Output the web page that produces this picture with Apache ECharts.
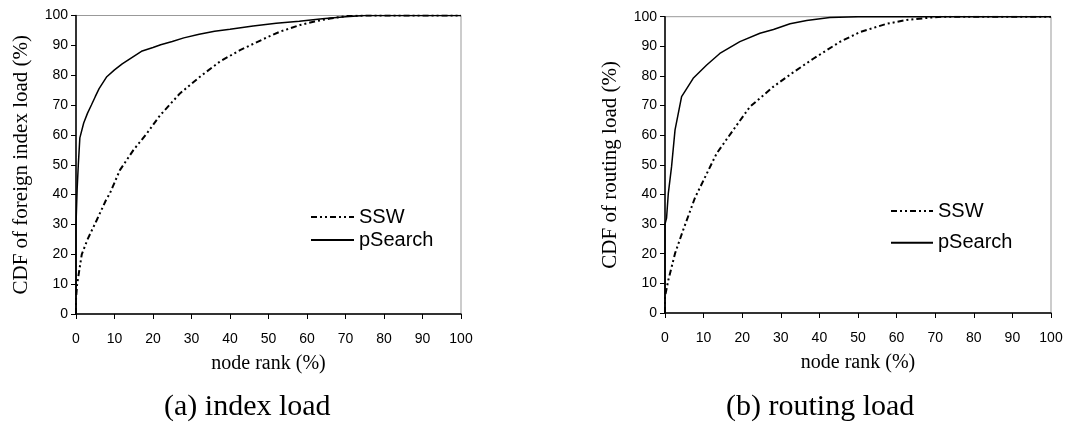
<!DOCTYPE html>
<html>
<head>
<meta charset="utf-8">
<script src="https://cdn.jsdelivr.net/npm/echarts@6/dist/echarts.min.js"></script>
<style>
html,body{margin:0;padding:0;background:#fff;}
#c{width:1068px;height:426px;}
</style>
</head>
<body>
<div id="c"></div>
<script>
// ---- data ----
const xTicks = [0,10,20,30,40,50,60,70,80,90,100];
const yTicks = [0,10,20,30,40,50,60,70,80,90,100];

// (a) index load
const idxPSearchX = [0,0,0.3,0.6,1,2,3,4,5,6,8,10,12,14,17,20,22,25,28,32,36,40,46,52,58,64,70,75,100];
const idxPSearchY = [0,30,42,50,59,64,67.3,70,72.8,75.5,79.5,81.8,83.8,85.5,88,89.3,90.2,91.3,92.5,93.7,94.7,95.4,96.5,97.4,98.1,98.9,99.6,100,100];
const idxSSWX = [0,0,0.3,1.5,3,5.4,7.8,8.8,11.4,14.9,18.4,21.8,27,32.2,37.4,42.6,49.5,53,58.2,62,66,70,75,100];
const idxSSWY = [0,5,10,20,25,31.5,38.2,40.4,48.2,54.9,60.5,66.5,73.9,79.5,84.6,88.4,92.6,94.6,96.8,98,99,99.8,100,100];

// (b) routing load
const rtPSearchX = [0,0,0.4,0.86,1.7,2.6,4.3,5.5,7.3,10.8,14.2,19.4,24.6,28.1,32.4,36.7,42.7,50,100];
const rtPSearchY = [0,30,32,40.4,49.4,61.8,73,75.5,79.2,83.7,87.6,91.6,94.4,95.7,97.6,98.7,99.7,100,100];
const rtSSWX = [0,0,0.86,2.6,4.7,7.8,13.4,17.7,22,28.1,33.2,38.4,45.3,50.5,57.4,62.6,68.7,72,100];
const rtSSWY = [0,5.5,11.1,20.1,28,39,53.9,61.8,69.6,76.4,81.2,85.8,91.5,94.8,97.6,98.9,99.7,100,100];

const seriesNames = ['SSW','pSearch'];
const xTitle = 'node rank (%)';
const yTitles = ['CDF of foreign index load (%)','CDF of routing load (%)'];
const captions = ['(a) index load','(b) routing load'];

const zip = (xs, ys) => xs.map((x,i)=>[x, ys[i]]);

const SANS = 'Liberation Sans, Arial, sans-serif';
const SERIF = 'Liberation Serif, Times New Roman, serif';
const sswType = [6,3,2,3,2,3];

function xAxisCfg(gi){
  return {
    type:'value', gridIndex:gi, min:0, max:100, interval:10,
    axisLine:{show:true, onZero:false, lineStyle:{color:'#000', width:1.5}},
    axisTick:{show:true, length:5, lineStyle:{color:'#000', width:1}},
    axisLabel:{color:'#000', fontFamily:SANS, fontSize:14, margin:18},
    splitLine:{show:false},
    name:xTitle, nameLocation:'middle', nameGap:40,
    nameTextStyle:{color:'#000', fontFamily:SERIF, fontSize:20}
  };
}
function yAxisCfg(gi){
  return {
    type:'value', gridIndex:gi, min:0, max:100, interval:10,
    axisLine:{show:true, onZero:false, lineStyle:{color:'#000', width:1.5}},
    axisTick:{show:true, length:5, lineStyle:{color:'#000', width:1}},
    axisLabel:{color:'#000', fontFamily:SANS, fontSize:14, margin:8},
    splitLine:{show:false},
    name:yTitles[gi], nameLocation:'middle', nameGap:44,
    nameTextStyle:{color:'#000', fontFamily:SERIF, fontSize:21}
  };
}
function lineSeries(name, gi, data){
  const isSSW = name === 'SSW';
  return {
    name, type:'line', xAxisIndex:gi, yAxisIndex:gi, data,
    symbol:'none', showSymbol:false, smooth:false,
    lineStyle:{color:'#000', width: isSSW ? 2 : 1.5, type: isSSW ? sswType : 'solid'},
    itemStyle:{color:'#000'},
    z: isSSW ? 3 : 2
  };
}

const legendBase = {
  data:seriesNames, orient:'vertical', itemHeight:12, selectedMode:false,
  itemStyle:{opacity:0},
  textStyle:{color:'#000', fontFamily:SANS, fontSize:20}
};

const chart = echarts.init(document.getElementById('c'), null, {renderer:'canvas'});
chart.setOption({
  animation:false,
  backgroundColor:'#fff',
  grid:[
    {left:76, top:15.5, width:385, height:298.5, show:true, borderColor:'#999', borderWidth:1, backgroundColor:'transparent'},
    {left:665, top:16.7, width:386, height:296.3, show:true, borderColor:'#999', borderWidth:1, backgroundColor:'transparent'}
  ],
  xAxis:[xAxisCfg(0), xAxisCfg(1)],
  yAxis:[yAxisCfg(0), yAxisCfg(1)],
  legend:[
    Object.assign({}, legendBase, {left:305, top:202, itemWidth:43, itemGap:3}),
    Object.assign({}, legendBase, {left:885, top:196, itemWidth:42, itemGap:11.7})
  ],
  graphic:[
    {type:'text', left:274-110, top:392, style:{text:captions[0], font:'30px '+SERIF, fill:'#000', width:220, align:'center'}},
    {type:'text', left:846-120, top:392, style:{text:captions[1], font:'30px '+SERIF, fill:'#000', width:240, align:'center'}}
  ],
  series:[
    lineSeries('SSW', 0, zip(idxSSWX, idxSSWY)),
    lineSeries('pSearch', 0, zip(idxPSearchX, idxPSearchY)),
    lineSeries('SSW', 1, zip(rtSSWX, rtSSWY)),
    lineSeries('pSearch', 1, zip(rtPSearchX, rtPSearchY))
  ]
});
</script>
</body>
</html>
